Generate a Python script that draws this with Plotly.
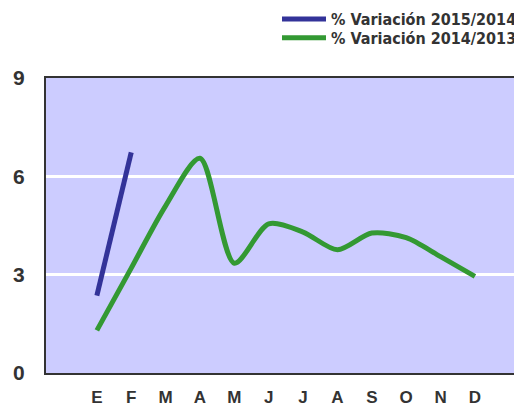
import plotly.graph_objects as go

months = ["E", "F", "M", "A", "M ", "J", "J ", "A ", "S", "O", "N", "D"]
month_labels = ["E", "F", "M", "A", "M", "J", "J", "A", "S", "O", "N", "D"]
var_2015_2014 = [2.36, 6.73]
var_2014_2013 = [1.3, 3.2, 5.1, 6.55, 3.35, 4.55, 4.3, 3.76, 4.27, 4.13, 3.55, 2.95]
y_ticks = [0, 3, 6, 9]

legend_font = dict(family="DejaVu Sans Condensed, Liberation Sans Narrow, Arial Narrow",
                   size=16, color="#333333", weight="bold")

fig = go.Figure()
fig.add_trace(go.Scatter(
    x=months[:len(var_2015_2014)], y=var_2015_2014, mode="lines",
    name="% Variación 2015/2014", legend="legend",
    line=dict(color="#333399", width=5, shape="spline", smoothing=0.8),
))
fig.add_trace(go.Scatter(
    x=months, y=var_2014_2013, mode="lines",
    name="% Variación 2014/2013", legend="legend2",
    line=dict(color="#339933", width=5, shape="spline", smoothing=0.8),
))

fig.update_layout(
    width=514, height=400,
    margin=dict(l=38, r=0, t=70, b=35, autoexpand=False),
    paper_bgcolor="white",
    plot_bgcolor="#CCCCFF",
    showlegend=True,
    legend=dict(x=1.0, xanchor="right", y=1.20, yanchor="middle",
                font=legend_font, bgcolor="rgba(0,0,0,0)", itemwidth=44,
                borderwidth=0),
    legend2=dict(x=1.0, xanchor="right", y=1.136, yanchor="middle",
                 font=legend_font, bgcolor="rgba(0,0,0,0)", itemwidth=44,
                 borderwidth=0),
    xaxis=dict(
        type="category", categoryorder="array", categoryarray=months,
        tickvals=months, ticktext=month_labels,
        range=[-1.48, 12.37],
        showgrid=False, zeroline=False,
        showline=True, linecolor="#333333", linewidth=2, mirror=True,
        ticks="", ticklabelstandoff=8, automargin=False,
        tickfont=dict(family="Liberation Sans, Arial", size=17, color="#333333", weight="bold"),
    ),
    yaxis=dict(
        range=[0, 9], tickvals=y_ticks,
        showgrid=True, gridcolor="white", gridwidth=3,
        zeroline=False, automargin=False,
        showline=True, linecolor="#333333", linewidth=2,
        ticks="", ticklabelstandoff=15,
        tickfont=dict(family="Liberation Sans, Arial", size=21, color="#333333", weight="bold"),
    ),
)

fig.write_html("out.html")
